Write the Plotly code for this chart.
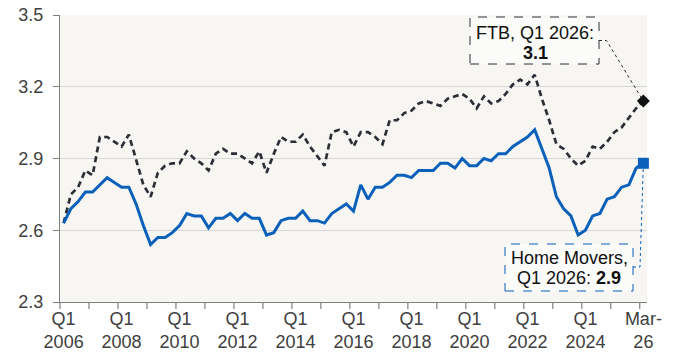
import plotly.graph_objects as go

# ---------------- data ----------------
quarters = [f"Q{q} {y}" for y in range(2006, 2027) for q in range(1, 5)][:81]

home_movers = [2.63, 2.69, 2.72, 2.76, 2.76, 2.79, 2.82, 2.80, 2.78, 2.78, 2.71, 2.62, 2.54,
               2.57, 2.57, 2.59, 2.62, 2.67, 2.66, 2.66, 2.61, 2.65, 2.65, 2.67, 2.64, 2.67,
               2.65, 2.65, 2.58, 2.59, 2.64, 2.65, 2.65, 2.68, 2.64, 2.64, 2.63, 2.67, 2.69,
               2.71, 2.68, 2.79, 2.73, 2.78, 2.78, 2.80, 2.83, 2.83, 2.82, 2.85, 2.85, 2.85,
               2.88, 2.88, 2.86, 2.90, 2.87, 2.87, 2.90, 2.89, 2.92, 2.92, 2.95, 2.97, 2.99,
               3.02, 2.94, 2.86, 2.74, 2.69, 2.66, 2.58, 2.60, 2.66, 2.67, 2.73, 2.74, 2.78,
               2.79, 2.86, 2.88]

ftb = [2.63, 2.75, 2.78, 2.85, 2.83, 2.99, 2.99, 2.97, 2.95, 3.00, 2.90, 2.79, 2.74,
       2.84, 2.87, 2.88, 2.88, 2.93, 2.90, 2.88, 2.85, 2.92, 2.94, 2.92, 2.92, 2.90,
       2.88, 2.93, 2.84, 2.92, 2.99, 2.97, 2.97, 3.00, 2.95, 2.91, 2.87, 3.01, 3.02,
       3.01, 2.95, 3.01, 3.01, 2.99, 2.96, 3.06, 3.06, 3.09, 3.10, 3.13, 3.14, 3.13,
       3.12, 3.15, 3.16, 3.17, 3.15, 3.11, 3.16, 3.13, 3.14, 3.17, 3.21, 3.23, 3.21,
       3.25, 3.15, 3.06, 2.96, 2.94, 2.90, 2.87, 2.89, 2.95, 2.94, 2.97, 3.01, 3.03,
       3.07, 3.11, 3.14]

tick_positions = list(range(0, 81, 8))
tick_labels = ["Q1<br>2006", "Q1<br>2008", "Q1<br>2010", "Q1<br>2012", "Q1<br>2014",
               "Q1<br>2016", "Q1<br>2018", "Q1<br>2020", "Q1<br>2022", "Q1<br>2024",
               "Mar-<br>26"]
y_ticks = [2.3, 2.6, 2.9, 3.2, 3.5]

# ---------------- layout constants ----------------
W, H = 700, 353
ML, MR, MT, MB = 60, 53, 15, 51
XR = [-0.5, len(quarters) - 0.5]
YR = [2.3, 3.5]
PW, PH = W - ML - MR, H - MT - MB

BLUE = "#0B61B9"
DARK = "#2B2F36"
TXT = "#404040"
AXC = "#7F7F7F"
FONT = "Liberation Sans, Arial, sans-serif"


def px_to_x(px):
    return XR[0] + (px - ML) / PW * (XR[1] - XR[0])


def py_to_y(py):
    return YR[1] - (py - MT) / PH * (YR[1] - YR[0])


def px_to_paper(px):
    return (px - ML) / PW


def py_to_paper(py):
    return (H - MB - py) / PH


def x_to_paper(x):
    return (x - XR[0]) / (XR[1] - XR[0])


xs = list(range(len(quarters)))
year_boundaries = [v - 0.5 for v in range(0, 81, 4)]

fig = go.Figure()

fig.add_trace(go.Scatter(x=xs, y=ftb, mode="lines", line=dict(color=DARK, width=2.7, dash="6px,4px"),
                         hoverinfo="skip", showlegend=False))
fig.add_trace(go.Scatter(x=xs, y=home_movers, mode="lines", line=dict(color=BLUE, width=3),
                         hoverinfo="skip", showlegend=False))

# leader lines
fig.add_trace(go.Scatter(x=[px_to_x(599), px_to_x(606.5), xs[-1]],
                         y=[py_to_y(40.5), py_to_y(40.5), ftb[-1]],
                         mode="lines", line=dict(color=DARK, width=1, dash="dot"),
                         hoverinfo="skip", showlegend=False))
fig.add_trace(go.Scatter(x=[px_to_x(633), px_to_x(640), xs[-1]],
                         y=[py_to_y(267), py_to_y(267), home_movers[-1]],
                         mode="lines", line=dict(color=BLUE, width=1, dash="dot"),
                         hoverinfo="skip", showlegend=False))

# end markers
fig.add_trace(go.Scatter(x=[xs[-1]], y=[ftb[-1]], mode="markers",
                         marker=dict(symbol="diamond", size=10, color="#111111"),
                         cliponaxis=False, hoverinfo="skip", showlegend=False))
fig.add_trace(go.Scatter(x=[xs[-1]], y=[home_movers[-1]], mode="markers",
                         marker=dict(symbol="square", size=11, color=BLUE),
                         cliponaxis=False, hoverinfo="skip", showlegend=False))

shapes = [
    dict(type="rect", xref="paper", yref="paper",
         x0=px_to_paper(470), x1=px_to_paper(599), y0=py_to_paper(64), y1=py_to_paper(17),
         line=dict(color=DARK, width=1, dash="dash"), fillcolor="rgba(255,255,255,0.5)", layer="above"),
    dict(type="rect", xref="paper", yref="paper",
         x0=px_to_paper(505), x1=px_to_paper(633), y0=py_to_paper(291), y1=py_to_paper(244),
         line=dict(color=BLUE, width=1, dash="dash"), fillcolor="rgba(255,255,255,0.5)", layer="above"),
]
# year-boundary tick marks below the x axis
for b in year_boundaries:
    shapes.append(dict(type="line", xref="paper", yref="paper", layer="above",
                       x0=x_to_paper(b), x1=x_to_paper(b), y0=0, y1=-7 / PH,
                       line=dict(color=AXC, width=1.2)))

ann_font = dict(family=FONT, size=18, color="#111111")
annotations = [
    dict(xref="paper", yref="paper", x=px_to_paper(535), y=py_to_paper(33), text="FTB, Q1 2026:",
         showarrow=False, font=ann_font, xanchor="center", yanchor="middle"),
    dict(xref="paper", yref="paper", x=px_to_paper(535), y=py_to_paper(53), text=f"<b>{ftb[-1]:.1f}</b>",
         showarrow=False, font=ann_font, xanchor="center", yanchor="middle"),
    dict(xref="paper", yref="paper", x=px_to_paper(569), y=py_to_paper(258), text="Home Movers,",
         showarrow=False, font=ann_font, xanchor="center", yanchor="middle"),
    dict(xref="paper", yref="paper", x=px_to_paper(569), y=py_to_paper(278),
         text=f"Q1 2026: <b>{home_movers[-1]:.1f}</b>",
         showarrow=False, font=ann_font, xanchor="center", yanchor="middle"),
]

fig.update_layout(
    width=W, height=H,
    margin=dict(l=ML, r=MR, t=MT, b=MB, pad=0),
    paper_bgcolor="white",
    plot_bgcolor="#F7F6F3",
    font=dict(family=FONT, size=18, color=TXT),
    showlegend=False,
    shapes=shapes,
    annotations=annotations,
    xaxis=dict(
        range=XR, tickmode="array", tickvals=tick_positions, ticktext=tick_labels,
        ticks="", showgrid=False, zeroline=False, showline=True, linecolor=AXC, linewidth=1,
        tickfont=dict(family=FONT, size=18, color=TXT), automargin=False,
    ),
    yaxis=dict(
        range=YR, tickmode="array", tickvals=y_ticks, tickformat=".1f",
        ticks="outside", ticklen=6, tickcolor=AXC, ticklabelstandoff=6,
        showgrid=True, gridcolor="#D6D6D6", gridwidth=1,
        zeroline=False, showline=True, linecolor=AXC, linewidth=1,
        tickfont=dict(family=FONT, size=18, color=TXT), automargin=False,
    ),
)

fig.write_html("out.html")
